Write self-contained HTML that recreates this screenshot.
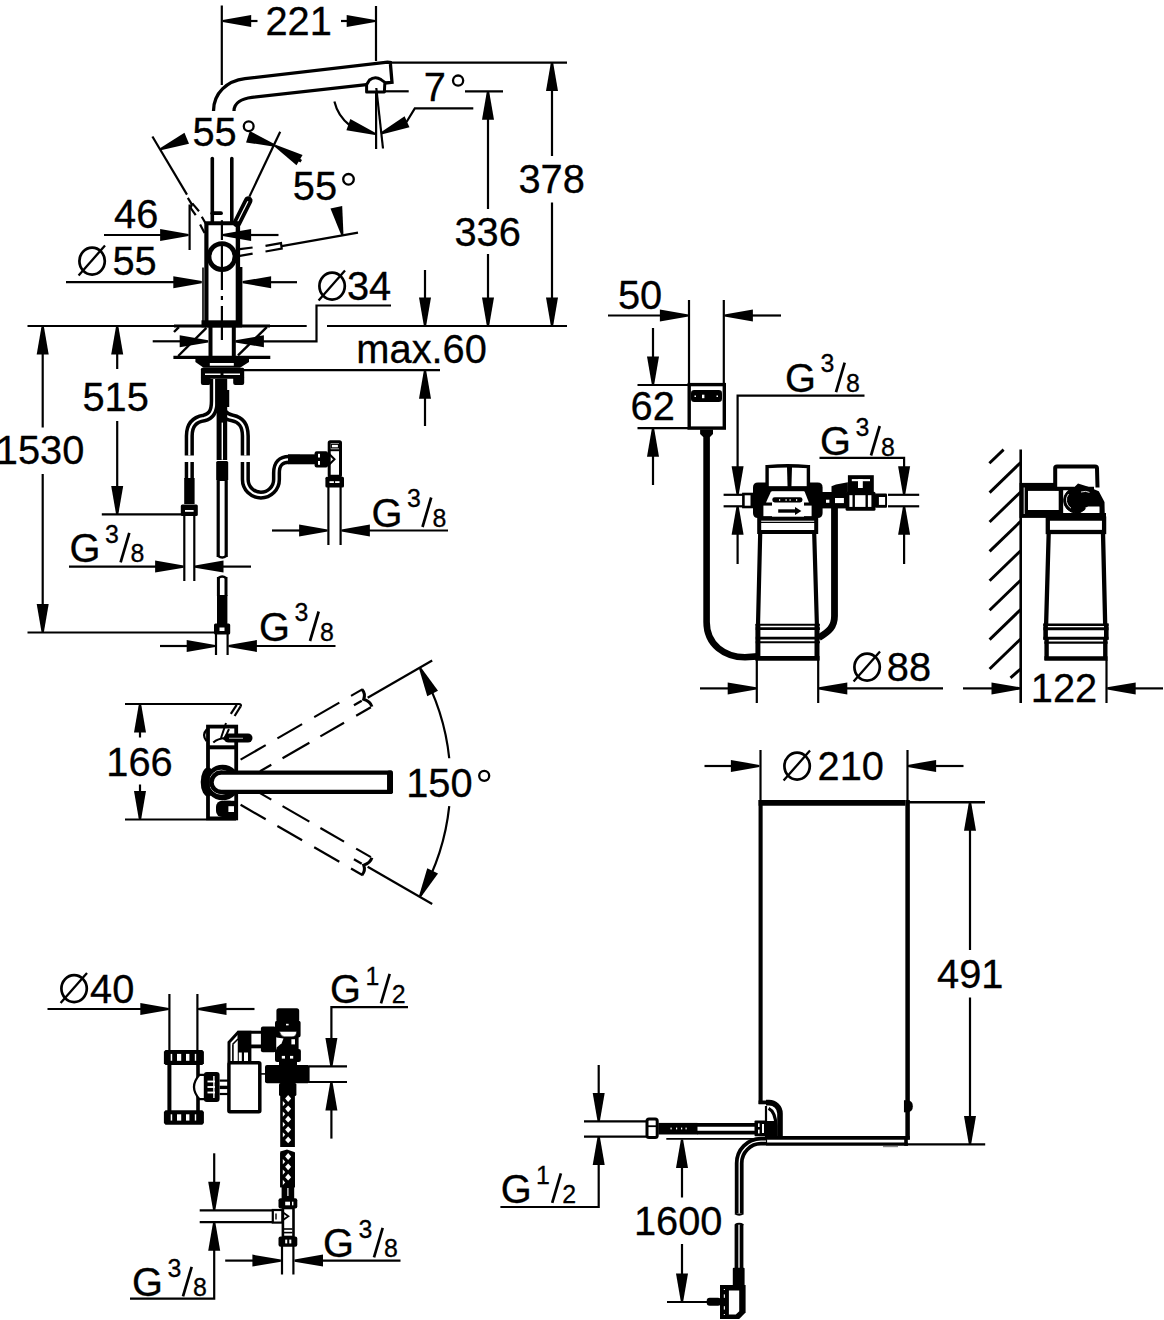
<!DOCTYPE html>
<html><head><meta charset="utf-8"><title>Dimension drawing</title>
<style>
html,body{margin:0;padding:0;background:#fff;}
svg{display:block;}
svg text{font-family:"Liberation Sans",sans-serif;fill:#000;stroke:#000;stroke-width:0.3px;}
</style></head><body>
<svg width="1164" height="1320" viewBox="0 0 1164 1320" fill="none" stroke="#000">
<rect x="0" y="0" width="1164" height="1320" fill="#fff" stroke="none"/>
<line x1="221.8" y1="5.5" x2="221.8" y2="85" stroke-width="2.2"/>
<line x1="376" y1="6" x2="376" y2="61" stroke-width="2.2"/>
<polygon points="222.7,19.9 251.2,15 251.2,27 222.7,22.1" fill="#000" stroke-width="0"/>
<line x1="250" y1="21" x2="257.5" y2="21" stroke-width="2.2"/>
<polygon points="375.2,22.1 346.7,27 346.7,15 375.2,19.9" fill="#000" stroke-width="0"/>
<line x1="341" y1="21" x2="348" y2="21" stroke-width="2.2"/>
<text x="265.4" y="34.8" font-size="39.8" fill="#000">221</text>
<path d="M213.5,111 C213.5,93 227,80.8 245,78.6 L387.5,62.2 L390.3,62.5 L392,82.3 L384.8,83" stroke-width="3.3" fill="none" stroke-linejoin="miter"/>
<path d="M234,111 C234,103 242,98.6 252,97.4 L366.5,84.6" stroke-width="3.3" fill="none"/>
<path d="M385.2,82.6 L381,79.6 Q375,75.6 369.5,80 L366.6,84.6 L366.6,92 L384.4,92 L384.8,83" stroke-width="3" fill="none" stroke-linejoin="round"/>
<line x1="391" y1="62.6" x2="567" y2="62.6" stroke-width="2.2"/>
<line x1="552" y1="64" x2="552" y2="156" stroke-width="2.2"/>
<line x1="552" y1="202.5" x2="552" y2="324" stroke-width="2.2"/>
<polygon points="553.1,62.6 558,91.1 546,91.1 550.9,62.6" fill="#000" stroke-width="0"/>
<polygon points="550.9,326 546,297.5 558,297.5 553.1,326" fill="#000" stroke-width="0"/>
<text x="518.48" y="193" font-size="39.8" fill="#000">378</text>
<line x1="384.5" y1="91.3" x2="408.7" y2="91.3" stroke-width="2.2"/>
<line x1="465" y1="91.3" x2="503" y2="91.3" stroke-width="2.2"/>
<line x1="488" y1="93" x2="488" y2="209" stroke-width="2.2"/>
<line x1="488" y1="254" x2="488" y2="324" stroke-width="2.2"/>
<polygon points="489.1,91.3 494,119.8 482,119.8 486.9,91.3" fill="#000" stroke-width="0"/>
<polygon points="486.9,326 482,297.5 494,297.5 489.1,326" fill="#000" stroke-width="0"/>
<text x="454.48" y="246" font-size="39.8" fill="#000">336</text>
<line x1="27.5" y1="326" x2="306.7" y2="326" stroke-width="2.2"/>
<line x1="327" y1="326" x2="567" y2="326" stroke-width="2.2"/>
<line x1="376.1" y1="92" x2="376.1" y2="149" stroke-width="2.2"/>
<line x1="376.3" y1="88" x2="383" y2="148.5" stroke-width="2.2"/>
<path d="M334.4,101.5 A42.5,42.5 0 0 0 350,125.5" stroke-width="2.2" fill="none"/>
<polygon points="374.94,135.04 346.41,130.34 350.33,119 375.66,132.96" fill="#000" stroke-width="0"/>
<polygon points="380.55,132.4 404.58,116.31 409.47,127.27 381.45,134.4" fill="#000" stroke-width="0"/>
<path d="M406.5,122 L414.8,108.4 L473.3,108.4" stroke-width="2.2" fill="none"/>
<text x="423.76" y="100.9" font-size="39.8" fill="#000">7</text>
<circle cx="458.1" cy="80.6" r="5.1" stroke-width="2.3" fill="none"/>
<line x1="152.4" y1="136.5" x2="187" y2="194.6" stroke-width="2.2"/>
<line x1="187.8" y1="197.8" x2="192.3" y2="205.1" stroke-width="2.2"/>
<line x1="192.3" y1="203.4" x2="199" y2="211.2" stroke-width="2.2"/>
<line x1="190.6" y1="207.9" x2="195.7" y2="215.2" stroke-width="2.2"/>
<line x1="192.3" y1="203.4" x2="190.6" y2="207.9" stroke-width="2.2"/>
<line x1="201.8" y1="216.8" x2="205.7" y2="223.5" stroke-width="2.2"/>
<line x1="200.1" y1="224.6" x2="204.6" y2="233" stroke-width="2.2"/>
<polygon points="159.98,148.18 184.45,132.77 189.03,143.86 160.82,150.22" fill="#000" stroke-width="0"/>
<text x="192.41" y="146" font-size="39.8" fill="#000">55</text>
<circle cx="248.7" cy="126.2" r="4.9" stroke-width="2.3" fill="none"/>
<polygon points="274.66,146.65 246.05,142.4 249.8,131 275.34,144.55" fill="#000" stroke-width="0"/>
<polygon points="275.56,144.65 302.59,154.92 296.49,165.25 274.44,146.55" fill="#000" stroke-width="0"/>
<line x1="298.6" y1="159.6" x2="301.2" y2="161.2" stroke-width="3"/>
<line x1="280.2" y1="131.7" x2="249.4" y2="196.6" stroke-width="2.2"/>
<line x1="248.2" y1="200.6" x2="237" y2="223" stroke-width="8.6" stroke-linecap="round"/>
<line x1="247.9" y1="201.2" x2="237.6" y2="221.8" stroke-width="1.2" stroke="#fff"/>
<text x="292.81" y="200.2" font-size="39.8" fill="#000">55</text>
<circle cx="348.5" cy="179.3" r="5.3" stroke-width="2.3" fill="none"/>
<polygon points="341.33,235.23 330.46,208.43 342.19,205.88 343.47,234.77" fill="#000" stroke-width="0"/>
<line x1="281.7" y1="246.2" x2="358" y2="232.6" stroke-width="2.2"/>
<line x1="239.8" y1="249.2" x2="252.6" y2="247.5" stroke-width="2.2"/>
<line x1="239.8" y1="255.9" x2="252.6" y2="253.7" stroke-width="2.2"/>
<path d="M265.5,245.9 L281,243.1 L281.7,248.7 L265.5,251.5" stroke-width="2.2" fill="none"/>
<line x1="212.3" y1="158.5" x2="212.3" y2="222" stroke-width="3.6" stroke-linecap="round"/>
<line x1="231.8" y1="158.5" x2="231.8" y2="222" stroke-width="3.6" stroke-linecap="round"/>
<line x1="212.3" y1="213.2" x2="221" y2="213.2" stroke-width="3.8" stroke-linecap="round"/>
<line x1="205.2" y1="223.2" x2="239.6" y2="223.2" stroke-width="4"/>
<line x1="206.4" y1="222" x2="206.4" y2="326" stroke-width="4.2"/>
<line x1="237.9" y1="222" x2="237.9" y2="326" stroke-width="4.4"/>
<line x1="203" y1="267.5" x2="203" y2="326" stroke-width="1.6"/>
<line x1="240.6" y1="267" x2="240.6" y2="326" stroke-width="3.6"/>
<line x1="221.9" y1="220.2" x2="221.9" y2="240" stroke-width="2.2"/>
<line x1="221.9" y1="244" x2="221.9" y2="290" stroke-width="2.2"/>
<line x1="221.9" y1="296" x2="221.9" y2="300" stroke-width="2.2"/>
<line x1="221.9" y1="306" x2="221.9" y2="340" stroke-width="2.2"/>
<circle cx="222" cy="256.6" r="13" stroke-width="4.8" fill="none"/>
<line x1="104" y1="235" x2="163" y2="235" stroke-width="2.2"/>
<polygon points="188.6,236.1 160.1,241 160.1,229 188.6,233.9" fill="#000" stroke-width="0"/>
<line x1="189.6" y1="204.5" x2="189.6" y2="250" stroke-width="2.2"/>
<polygon points="222.6,233.9 251.1,229 251.1,241 222.6,236.1" fill="#000" stroke-width="0"/>
<line x1="250" y1="235" x2="278.5" y2="235" stroke-width="2.2"/>
<text x="114.09" y="228.3" font-size="39.8" fill="#000">46</text>
<line x1="66" y1="282.2" x2="175" y2="282.2" stroke-width="2.2"/>
<polygon points="201.8,283.3 173.3,288.2 173.3,276.2 201.8,281.1" fill="#000" stroke-width="0"/>
<polygon points="242.6,281.1 271.1,276.2 271.1,288.2 242.6,283.3" fill="#000" stroke-width="0"/>
<line x1="270" y1="282.2" x2="297" y2="282.2" stroke-width="2.2"/>
<ellipse cx="92.1" cy="261.1" rx="12.7" ry="13.5" stroke-width="2.7" fill="none"/>
<line x1="78.6" y1="275.4" x2="105" y2="245.6" stroke-width="2.3"/>
<text x="112.41" y="275" font-size="39.8" fill="#000">55</text>
<ellipse cx="332.1" cy="286.1" rx="12.7" ry="13.5" stroke-width="2.7" fill="none"/>
<line x1="318.6" y1="300.4" x2="345" y2="270.6" stroke-width="2.3"/>
<text x="346.98" y="300" font-size="39.8" fill="#000">34</text>
<path d="M391,305.5 L316.5,305.5 L316.5,341.3 L262,341.3" stroke-width="2.2" fill="none"/>
<polygon points="235.4,340.2 263.9,335.3 263.9,347.3 235.4,342.4" fill="#000" stroke-width="0"/>
<line x1="152.7" y1="341.3" x2="182" y2="341.3" stroke-width="2.2"/>
<polygon points="208.2,342.4 179.7,347.3 179.7,335.3 208.2,340.2" fill="#000" stroke-width="0"/>
<line x1="425" y1="270" x2="425" y2="300" stroke-width="2.2"/>
<polygon points="423.9,326 419,297.5 431,297.5 426.1,326" fill="#000" stroke-width="0"/>
<text x="356.36" y="362.5" font-size="39.8" fill="#000">max.60</text>
<line x1="242.5" y1="370.2" x2="440" y2="370.2" stroke-width="2.2"/>
<polygon points="426.1,370.2 431,398.7 419,398.7 423.9,370.2" fill="#000" stroke-width="0"/>
<line x1="425" y1="397" x2="425" y2="426" stroke-width="2.2"/>
<line x1="174" y1="326" x2="270" y2="326" stroke-width="3"/>
<rect x="201.5" y="320.3" width="40.5" height="7.1" fill="#000" stroke="none"/>
<line x1="173.4" y1="357.4" x2="270.3" y2="357.4" stroke-width="3.4"/>
<line x1="174" y1="332" x2="178.9" y2="327.2" stroke-width="2.4"/>
<line x1="178.2" y1="356" x2="206.4" y2="327.9" stroke-width="2.4"/>
<line x1="238" y1="355.4" x2="266.8" y2="327.2" stroke-width="2.4"/>
<line x1="210.5" y1="326" x2="210.5" y2="358" stroke-width="4"/>
<line x1="233.8" y1="326" x2="233.8" y2="358" stroke-width="4"/>
<polygon points="195.4,356 249,356 249,362 240,367.7 203.6,367.7 195.4,362" fill="#000" stroke-width="0"/>
<rect x="209.8" y="363" width="24" height="2.7" fill="#fff" stroke="none"/>
<rect x="200.9" y="367.7" width="43.3" height="11" fill="#000" stroke="none" rx="1.5"/>
<rect x="205" y="373.5" width="15.5" height="1.5" fill="#fff" stroke="none"/>
<rect x="223.5" y="373.5" width="16.5" height="1.5" fill="#fff" stroke="none"/>
<rect x="200.9" y="376" width="9.6" height="9" fill="#000" stroke="none" rx="2"/>
<rect x="233.2" y="376" width="11" height="9" fill="#000" stroke="none" rx="2"/>
<line x1="117.2" y1="328" x2="117.2" y2="369" stroke-width="2.2"/>
<line x1="117.2" y1="421" x2="117.2" y2="512" stroke-width="2.2"/>
<polygon points="118.3,326 123.2,354.5 111.2,354.5 116.1,326" fill="#000" stroke-width="0"/>
<polygon points="116.1,514.4 111.2,485.9 123.2,485.9 118.3,514.4" fill="#000" stroke-width="0"/>
<text x="82.41" y="411" font-size="39.8" fill="#000">515</text>
<line x1="101.8" y1="514.4" x2="184" y2="514.4" stroke-width="2.2"/>
<line x1="42.7" y1="328" x2="42.7" y2="427.5" stroke-width="2.2"/>
<line x1="42.7" y1="474" x2="42.7" y2="630" stroke-width="2.2"/>
<polygon points="43.8,326 48.7,354.5 36.7,354.5 41.6,326" fill="#000" stroke-width="0"/>
<polygon points="41.6,632.5 36.7,604 48.7,604 43.8,632.5" fill="#000" stroke-width="0"/>
<text x="-4.19" y="464" font-size="39.8" fill="#000">1530</text>
<line x1="27.5" y1="632.5" x2="215" y2="632.5" stroke-width="2.2"/>
<path d="M226,390 L226,407" stroke-width="6.5" fill="none" stroke-linecap="butt"/>
<path d="M226,390 L226,407" stroke-width="1.6" fill="none" stroke="#fff" stroke-linecap="butt"/>
<path d="M189.3,455.5 L189.3,436 C189.3,424 195,419.5 204,418 C211,416.5 214.3,412 214.3,401 L214.3,379" stroke-width="9.2" fill="none" stroke-linecap="butt"/>
<path d="M189.3,455.5 L189.3,436 C189.3,424 195,419.5 204,418 C211,416.5 214.3,412 214.3,401 L214.3,379" stroke-width="2.2" fill="none" stroke="#fff" stroke-linecap="butt"/>
<path d="M245.3,455.5 L245.3,436 C245.3,424 240,419.5 232.5,418 C224,416.5 219.8,411 219.8,401 L219.8,379" stroke-width="9.2" fill="none" stroke-linecap="butt"/>
<path d="M245.3,455.5 L245.3,436 C245.3,424 240,419.5 232.5,418 C224,416.5 219.8,411 219.8,401 L219.8,379" stroke-width="2.2" fill="none" stroke="#fff" stroke-linecap="butt"/>
<rect x="216.6" y="378.7" width="10.6" height="81.3" fill="#000" stroke="none"/>
<rect x="221.6" y="422.6" width="1.4" height="37.1" fill="#fff" stroke="none"/>
<rect x="216.2" y="461" width="12" height="20" fill="#000" stroke="none" rx="1.5"/>
<line x1="218.2" y1="481" x2="218.2" y2="557" stroke-width="3.2"/>
<line x1="226.2" y1="481" x2="226.2" y2="557" stroke-width="3.2"/>
<path d="M218.2,556 Q222.2,559 226.2,556" stroke-width="2.4" fill="none"/>
<line x1="218.4" y1="577" x2="218.4" y2="596" stroke-width="3"/>
<line x1="226" y1="577" x2="226" y2="596" stroke-width="3"/>
<path d="M218.4,578 Q222.2,575 226,578" stroke-width="2.4" fill="none"/>
<rect x="217" y="595" width="10.4" height="30" fill="#000" stroke="none"/>
<rect x="214" y="623.5" width="16.2" height="11" fill="#000" stroke="none" rx="1.5"/>
<rect x="219.5" y="627.5" width="5" height="3.5" fill="#fff" stroke="none"/>
<line x1="216" y1="634" x2="216" y2="655" stroke-width="2.2"/>
<line x1="227.6" y1="634" x2="227.6" y2="655" stroke-width="2.2"/>
<path d="M189.3,462 L189.3,479" stroke-width="9.2" fill="none" stroke-linecap="butt"/>
<path d="M189.3,462 L189.3,479" stroke-width="2.2" fill="none" stroke="#fff" stroke-linecap="butt"/>
<rect x="184.2" y="478" width="10.4" height="26" fill="#000" stroke="none"/>
<rect x="180.8" y="504.5" width="17" height="11.5" fill="#000" stroke="none" rx="1.5"/>
<rect x="185" y="510" width="8.6" height="1.8" fill="#fff" stroke="none"/>
<line x1="184.3" y1="514" x2="184.3" y2="581" stroke-width="2.2"/>
<line x1="194.3" y1="514" x2="194.3" y2="581" stroke-width="2.2"/>
<line x1="69" y1="566.6" x2="156" y2="566.6" stroke-width="2.2"/>
<polygon points="183.6,567.7 155.1,572.6 155.1,560.6 183.6,565.5" fill="#000" stroke-width="0"/>
<polygon points="195,565.5 223.5,560.6 223.5,572.6 195,567.7" fill="#000" stroke-width="0"/>
<line x1="222" y1="566.6" x2="251" y2="566.6" stroke-width="2.2"/>
<text x="69.6" y="562" font-size="39.8" fill="#000">G</text>
<text x="105.05" y="542.5" font-size="24.9" fill="#000">3</text>
<line x1="120.6" y1="562.3" x2="129.3" y2="532.8" stroke-width="2.7"/>
<text x="130.62" y="562.3" font-size="24.9" fill="#000">8</text>
<line x1="160" y1="646" x2="188" y2="646" stroke-width="2.2"/>
<polygon points="215.2,647.1 186.7,652 186.7,640 215.2,644.9" fill="#000" stroke-width="0"/>
<polygon points="228.4,644.9 256.9,640 256.9,652 228.4,647.1" fill="#000" stroke-width="0"/>
<line x1="256" y1="646" x2="335.5" y2="646" stroke-width="2.2"/>
<text x="259" y="640.7" font-size="39.8" fill="#000">G</text>
<text x="294.45" y="621.2" font-size="24.9" fill="#000">3</text>
<line x1="310" y1="641" x2="318.7" y2="611.5" stroke-width="2.7"/>
<text x="320.02" y="641" font-size="24.9" fill="#000">8</text>
<path d="M245.3,462 L245.3,479.5 A15.6,15.6 0 0 0 276.5,479.5 L276.5,473 C276.5,463.5 281,459.3 289,459.3 L300,459.3" stroke-width="9.2" fill="none" stroke-linecap="butt"/>
<path d="M245.3,462 L245.3,479.5 A15.6,15.6 0 0 0 276.5,479.5 L276.5,473 C276.5,463.5 281,459.3 289,459.3 L300,459.3" stroke-width="2.2" fill="none" stroke="#fff" stroke-linecap="butt"/>
<line x1="288" y1="459.3" x2="316" y2="459.3" stroke-width="10"/>
<rect x="314.6" y="451.2" width="13.4" height="16.2" fill="#000" stroke="none" rx="2"/>
<rect x="318" y="453.8" width="2" height="3.7" fill="#fff" stroke="none"/>
<rect x="318" y="461" width="2" height="3.8" fill="#fff" stroke="none"/>
<rect x="329.2" y="441.8" width="11.3" height="34.5" stroke-width="3" fill="none" rx="1"/>
<rect x="331" y="444.4" width="7.6" height="3.4" fill="#fff" stroke="none"/>
<rect x="331.3" y="444.3" width="7.2" height="3.6" stroke-width="1.2" fill="none"/>
<line x1="329" y1="450.2" x2="341" y2="450.2" stroke-width="2"/>
<path d="M328,452.8 L334.5,459.3 L328,465.8" stroke-width="2" fill="none"/>
<rect x="325.4" y="476.7" width="18.6" height="10.8" fill="#000" stroke="none" rx="1.5"/>
<rect x="329.5" y="481.2" width="10" height="1.8" fill="#fff" stroke="none"/>
<line x1="334.5" y1="480" x2="334.5" y2="484.4" stroke-width="1.2"/>
<line x1="328.4" y1="487" x2="328.4" y2="545" stroke-width="2.2"/>
<line x1="340.6" y1="487" x2="340.6" y2="545" stroke-width="2.2"/>
<line x1="272" y1="530.5" x2="301" y2="530.5" stroke-width="2.2"/>
<polygon points="327.6,531.6 299.1,536.5 299.1,524.5 327.6,529.4" fill="#000" stroke-width="0"/>
<polygon points="341.4,529.4 369.9,524.5 369.9,536.5 341.4,531.6" fill="#000" stroke-width="0"/>
<line x1="368" y1="530.5" x2="448" y2="530.5" stroke-width="2.2"/>
<text x="371.5" y="526.7" font-size="39.8" fill="#000">G</text>
<text x="406.95" y="507.2" font-size="24.9" fill="#000">3</text>
<line x1="422.5" y1="527" x2="431.2" y2="497.5" stroke-width="2.7"/>
<text x="432.52" y="527" font-size="24.9" fill="#000">8</text>
<line x1="125" y1="704" x2="239" y2="704" stroke-width="2.2"/>
<path d="M239,704 Q241.5,704 240.8,706.5" stroke-width="2.2" fill="none"/>
<line x1="125" y1="819.5" x2="236" y2="819.5" stroke-width="2.2"/>
<line x1="140" y1="706" x2="140" y2="737.5" stroke-width="2.2"/>
<line x1="140" y1="784.5" x2="140" y2="818" stroke-width="2.2"/>
<polygon points="141.1,704 146,732.5 134,732.5 138.9,704" fill="#000" stroke-width="0"/>
<polygon points="138.9,819.5 134,791 146,791 141.1,819.5" fill="#000" stroke-width="0"/>
<text x="106.31" y="775.8" font-size="39.8" fill="#000">166</text>
<line x1="230.8" y1="713.9" x2="236.7" y2="704.9" stroke-width="2.2"/>
<line x1="234.6" y1="716" x2="240.6" y2="706.4" stroke-width="2.2"/>
<line x1="240.6" y1="759.63" x2="265.71" y2="745.13" stroke-width="2.2"/>
<line x1="277.4" y1="738.38" x2="302.09" y2="724.13" stroke-width="2.2"/>
<line x1="314.21" y1="717.13" x2="339.33" y2="702.63" stroke-width="2.2"/>
<line x1="351.02" y1="695.88" x2="362.71" y2="689.13" stroke-width="2.2"/>
<line x1="260.02" y1="771.27" x2="271.28" y2="764.77" stroke-width="2.2"/>
<line x1="282.54" y1="758.27" x2="309.39" y2="742.77" stroke-width="2.2"/>
<line x1="320.39" y1="736.42" x2="344.03" y2="722.77" stroke-width="2.2"/>
<line x1="356.15" y1="715.77" x2="370.88" y2="707.27" stroke-width="2.2"/>
<path d="M362.02,689.53 Q365.78,693.64 363.72,699.28 Q370.23,701.36 371.92,706.67" stroke-width="3" fill="none"/>
<line x1="353.95" y1="705.15" x2="361.74" y2="700.65" stroke-width="2.3"/>
<line x1="367.66" y1="697.7" x2="432.18" y2="660.45" stroke-width="2.2"/>
<line x1="240.6" y1="804.77" x2="265.71" y2="819.27" stroke-width="2.2"/>
<line x1="277.4" y1="826.02" x2="302.09" y2="840.27" stroke-width="2.2"/>
<line x1="314.21" y1="847.27" x2="339.33" y2="861.77" stroke-width="2.2"/>
<line x1="351.02" y1="868.52" x2="362.71" y2="875.27" stroke-width="2.2"/>
<line x1="260.02" y1="793.13" x2="271.28" y2="799.63" stroke-width="2.2"/>
<line x1="282.54" y1="806.13" x2="309.39" y2="821.63" stroke-width="2.2"/>
<line x1="320.39" y1="827.98" x2="344.03" y2="841.63" stroke-width="2.2"/>
<line x1="356.15" y1="848.63" x2="370.88" y2="857.13" stroke-width="2.2"/>
<path d="M371.92,857.73 Q370.23,863.04 363.72,865.12 Q365.78,870.76 362.02,874.87" stroke-width="3" fill="none"/>
<line x1="353.95" y1="859.25" x2="361.74" y2="863.75" stroke-width="2.3"/>
<line x1="367.66" y1="866.7" x2="432.18" y2="903.95" stroke-width="2.2"/>
<path d="M420.59,668.99 A229.2,229.2 0 0 1 449.24,758.24" stroke-width="2.2" fill="none"/>
<path d="M449.24,806.16 A229.2,229.2 0 0 1 420.59,895.41" stroke-width="2.2" fill="none"/>
<polygon points="420.98,667.46 438.02,690.82 427.27,696.15 419.01,668.43" fill="#000" stroke-width="0"/>
<polygon points="419.01,895.97 427.27,868.25 438.02,873.58 420.98,896.94" fill="#000" stroke-width="0"/>
<text x="406.21" y="796.7" font-size="39.8" fill="#000">150</text>
<circle cx="484.2" cy="775.8" r="5" stroke-width="2.3" fill="none"/>
<circle cx="222.6" cy="782.5" r="17.8" fill="#000" stroke="none"/><ellipse cx="208" cy="782" rx="7.3" ry="14.6" fill="#000" stroke="none"/>
<circle cx="221.3" cy="782.2" r="12.1" stroke="#fff" stroke-width="0.8" fill="none"/>
<rect x="208" y="726.6" width="28.2" height="91.8" stroke-width="3.8" fill="none"/>
<line x1="208" y1="747.3" x2="236.2" y2="747.3" stroke-width="4"/>
<path d="M389.5,772.55 L221.3,772.55 A9.7,9.7 0 0 0 221.3,791.95 L389.5,791.95 Z" stroke-width="4.25" fill="#fff"/>
<rect x="387.1" y="770.4" width="5.9" height="23.7" fill="#000" stroke="none" rx="1.8"/>
<line x1="228.5" y1="738" x2="248" y2="738" stroke-width="9" stroke-linecap="round"/>
<line x1="229" y1="738.3" x2="243" y2="738.3" stroke-width="1.2" stroke="#999"/>
<path d="M213.3,742.5 Q218,738.5 225,738" stroke-width="2.2" fill="none"/>
<path d="M207,729 Q201.5,735 206.5,741" stroke-width="2.2" fill="none"/>
<path d="M221,738 L226,723 M224,740 L229,729" stroke-width="2" fill="none"/>
<rect x="216" y="800.8" width="20" height="16.2" fill="#000" stroke="none" rx="6"/>
<rect x="224" y="800.8" width="12" height="16.2" fill="#000" stroke="none"/>
<rect x="228.4" y="806.2" width="5.6" height="5.8" fill="#fff" stroke="none"/>
<ellipse cx="74.1" cy="988.6" rx="12.7" ry="13.5" stroke-width="2.7" fill="none"/>
<line x1="60.6" y1="1002.9" x2="87" y2="973.1" stroke-width="2.3"/>
<text x="90.09" y="1002.5" font-size="39.8" fill="#000">40</text>
<line x1="47.5" y1="1009" x2="142" y2="1009" stroke-width="2.2"/>
<polygon points="168.8,1010.1 140.3,1015 140.3,1003 168.8,1007.9" fill="#000" stroke-width="0"/>
<polygon points="198,1007.9 226.5,1003 226.5,1015 198,1010.1" fill="#000" stroke-width="0"/>
<line x1="225" y1="1009" x2="254.5" y2="1009" stroke-width="2.2"/>
<line x1="169.4" y1="994" x2="169.4" y2="1051" stroke-width="2.2"/>
<line x1="197.4" y1="994" x2="197.4" y2="1051" stroke-width="2.2"/>
<polygon points="165.5,1049.9 202.3,1049.9 203.9,1051.7 203.9,1063.2 202.3,1065 165.5,1065 163.9,1063.2 163.9,1051.7" fill="#000" stroke-width="0"/>
<rect x="170.7" y="1053.9" width="1.5" height="6.9" fill="#fff" stroke="none"/>
<rect x="177" y="1053.9" width="4.2" height="6.9" fill="#fff" stroke="none"/>
<rect x="186" y="1053.9" width="3.4" height="6.9" fill="#fff" stroke="none"/>
<rect x="194.8" y="1053.9" width="1.4" height="6.9" fill="#fff" stroke="none"/>
<polygon points="165.5,1110.3 202.3,1110.3 203.9,1112.1 203.9,1123 202.3,1124.8 165.5,1124.8 163.9,1123 163.9,1112.1" fill="#000" stroke-width="0"/>
<rect x="170.7" y="1114.3" width="1.5" height="6.3" fill="#fff" stroke="none"/>
<rect x="177" y="1114.3" width="4.2" height="6.3" fill="#fff" stroke="none"/>
<rect x="186" y="1114.3" width="3.4" height="6.3" fill="#fff" stroke="none"/>
<rect x="194.8" y="1114.3" width="1.4" height="6.3" fill="#fff" stroke="none"/>
<line x1="169.4" y1="1064" x2="169.4" y2="1111" stroke-width="4"/>
<line x1="198" y1="1064" x2="198" y2="1111" stroke-width="3.6"/>
<path d="M204,1074.8 L199.5,1074.8 Q188.5,1087 199.5,1099.2 L204,1099.2" stroke-width="2.2" fill="#fff"/>
<rect x="203.8" y="1071.9" width="15.8" height="30.1" fill="#000" stroke="none" rx="3"/>
<rect x="207.5" y="1080.6" width="7.5" height="1.8" fill="#fff" stroke="none"/>
<rect x="207.5" y="1086.1" width="7.5" height="1.8" fill="#fff" stroke="none"/>
<rect x="207.5" y="1091.6" width="7.5" height="1.8" fill="#fff" stroke="none"/>
<rect x="213.2" y="1076" width="1.4" height="22" fill="#fff" stroke="none"/>
<line x1="219.6" y1="1080.6" x2="231" y2="1080.6" stroke-width="2.2"/>
<line x1="219.6" y1="1087.4" x2="231" y2="1087.4" stroke-width="3.4"/>
<line x1="219.6" y1="1094" x2="231" y2="1094" stroke-width="2.2"/>
<path d="M230,1080 Q233,1087.4 230,1094.6" stroke-width="2.2" fill="none"/>
<rect x="228.9" y="1062.8" width="30.9" height="48.9" stroke-width="3.5" fill="#fff" rx="1"/>
<path d="M229,1062 L229,1042.3 L238.2,1032.2 L262,1032.2" stroke-width="3" fill="none"/>
<rect x="237.5" y="1030.8" width="13.9" height="30.2" fill="#000" stroke="none"/>
<polygon points="232.8,1061 232.8,1044 237.5,1039.5 237.5,1061" fill="#fff" stroke-width="0"/>
<line x1="232.9" y1="1044.5" x2="232.9" y2="1061" stroke-width="1.6"/>
<line x1="232.5" y1="1044.5" x2="238" y2="1039" stroke-width="1.6"/>
<rect x="238.8" y="1052.5" width="3" height="8.5" fill="#fff" stroke="none"/>
<rect x="244" y="1052.5" width="4" height="8.5" fill="#fff" stroke="none"/>
<rect x="251" y="1044.5" width="11" height="3.8" fill="#000" stroke="none"/>
<rect x="260.9" y="1026.5" width="15.1" height="25.7" fill="#000" stroke="none" rx="2"/>
<rect x="276.4" y="1008.2" width="22.8" height="13.8" fill="#000" stroke="none" rx="2.5"/>
<rect x="275" y="1020.5" width="25.6" height="17.1" fill="#000" stroke="none" rx="2.5"/>
<path d="M279.4,1031.4 L296.6,1031.4 Q296.4,1036.8 292,1036.8 L284.5,1036.8 Q281,1036.6 279.4,1031.4 Z" stroke-width="0.5" fill="#fff"/>
<rect x="286" y="1023.8" width="2.6" height="1.6" fill="#fff" stroke="none"/>
<rect x="276.4" y="1037" width="22.2" height="12" fill="#000" stroke="none"/>
<polygon points="276.4,1037.6 283.5,1038.6 281.6,1043.2 276.4,1047.8" fill="#fff" stroke-width="0"/>
<rect x="291.4" y="1039.2" width="3.6" height="5.2" fill="#fff" stroke="none"/>
<rect x="275" y="1049" width="25.9" height="13" fill="#000" stroke="none" rx="2"/>
<rect x="281.8" y="1055.9" width="3.2" height="2.7" fill="#fff" stroke="none"/>
<rect x="290" y="1055.9" width="3.2" height="2.7" fill="#fff" stroke="none"/>
<rect x="279" y="1061" width="18" height="5" fill="#000" stroke="none"/>
<rect x="265" y="1065" width="44.6" height="18.2" fill="#000" stroke="none" rx="2"/>
<line x1="260" y1="1073.9" x2="266" y2="1073.9" stroke-width="1.6"/>
<rect x="279" y="1083" width="17.4" height="13" fill="#000" stroke="none" rx="1.5"/>
<line x1="309" y1="1066.4" x2="347" y2="1066.4" stroke-width="2.2"/>
<line x1="309" y1="1082" x2="347" y2="1082" stroke-width="2.2"/>
<path d="M408,1007.2 L331.4,1007.2 L331.4,1040" stroke-width="2.2" fill="none"/>
<polygon points="330.3,1066.4 325.4,1037.9 337.4,1037.9 332.5,1066.4" fill="#000" stroke-width="0"/>
<polygon points="332.5,1082 337.4,1110.5 325.4,1110.5 330.3,1082" fill="#000" stroke-width="0"/>
<line x1="331.4" y1="1109" x2="331.4" y2="1138.6" stroke-width="2.2"/>
<text x="330" y="1003" font-size="39.8" fill="#000">G</text>
<text x="365.57" y="985" font-size="24.9" fill="#000">1</text>
<line x1="381" y1="1003.3" x2="389.7" y2="973.8" stroke-width="2.7"/>
<text x="391.75" y="1003.3" font-size="24.9" fill="#000">2</text>
<rect x="280.2" y="1095" width="14.7" height="52" fill="#000" stroke="none"/>
<polygon points="288.15,1095.1 291.15,1098.5 288.15,1101.9 285.15,1098.5" fill="#fff" stroke-width="0"/>
<polygon points="282.8,1101.1 285.2,1103.7 282.8,1106.3" fill="#fff" stroke-width="0"/>
<polygon points="288.15,1105.45 291.15,1108.85 288.15,1112.25 285.15,1108.85" fill="#fff" stroke-width="0"/>
<polygon points="282.8,1111.45 285.2,1114.05 282.8,1116.65" fill="#fff" stroke-width="0"/>
<polygon points="288.15,1115.8 291.15,1119.2 288.15,1122.6 285.15,1119.2" fill="#fff" stroke-width="0"/>
<polygon points="282.8,1121.8 285.2,1124.4 282.8,1127" fill="#fff" stroke-width="0"/>
<polygon points="288.15,1126.15 291.15,1129.55 288.15,1132.95 285.15,1129.55" fill="#fff" stroke-width="0"/>
<polygon points="282.8,1132.15 285.2,1134.75 282.8,1137.35" fill="#fff" stroke-width="0"/>
<polygon points="288.15,1136.5 291.15,1139.9 288.15,1143.3 285.15,1139.9" fill="#fff" stroke-width="0"/>
<polygon points="280.2,1151.6 287,1149.4 294.9,1152.2 294.9,1187.3 280.2,1187.3" fill="#000" stroke-width="0"/>
<rect x="280.2" y="1153" width="14.7" height="34.3" fill="#000" stroke="none"/>
<polygon points="288.15,1153.1 291.15,1156.5 288.15,1159.9 285.15,1156.5" fill="#fff" stroke-width="0"/>
<polygon points="282.8,1159.1 285.2,1161.7 282.8,1164.3" fill="#fff" stroke-width="0"/>
<polygon points="288.15,1163.45 291.15,1166.85 288.15,1170.25 285.15,1166.85" fill="#fff" stroke-width="0"/>
<polygon points="282.8,1169.45 285.2,1172.05 282.8,1174.65" fill="#fff" stroke-width="0"/>
<polygon points="288.15,1173.8 291.15,1177.2 288.15,1180.6 285.15,1177.2" fill="#fff" stroke-width="0"/>
<polygon points="282.8,1179.8 285.2,1182.4 282.8,1185" fill="#fff" stroke-width="0"/>
<rect x="281.6" y="1187" width="12.6" height="12" fill="#000" stroke="none"/>
<rect x="287.3" y="1188" width="1.2" height="8" fill="#fff" stroke="none"/>
<rect x="278.5" y="1198.2" width="18.8" height="10.4" fill="#000" stroke="none" rx="2"/>
<rect x="285.2" y="1201.7" width="4.8" height="3.6" fill="#fff" stroke="none"/>
<rect x="292" y="1201.7" width="1.4" height="3.6" fill="#fff" stroke="none"/>
<rect x="282.9" y="1208" width="10.6" height="29" stroke-width="2.6" fill="#fff"/>
<path d="M282.4,1212 L288.4,1216.3 L282.4,1220.6" stroke-width="1.8" fill="none"/>
<rect x="272.8" y="1210" width="9.5" height="12.6" stroke-width="2.2" fill="#fff"/>
<line x1="276" y1="1213.5" x2="276" y2="1219.5" stroke-width="1.4"/>
<line x1="283.5" y1="1229" x2="292.5" y2="1229" stroke-width="1.6"/>
<line x1="283.5" y1="1232.6" x2="292.5" y2="1232.6" stroke-width="1.6"/>
<rect x="278.5" y="1236.4" width="18.8" height="10.4" fill="#000" stroke="none" rx="2"/>
<rect x="285.2" y="1239.6" width="2" height="3.8" fill="#fff" stroke="none"/>
<rect x="289.3" y="1239.6" width="2" height="3.8" fill="#fff" stroke="none"/>
<line x1="282" y1="1246" x2="282" y2="1274.5" stroke-width="2.2"/>
<line x1="293.4" y1="1246" x2="293.4" y2="1274.5" stroke-width="2.2"/>
<line x1="199.7" y1="1210.3" x2="272.4" y2="1210.3" stroke-width="2.2"/>
<line x1="199.7" y1="1222.2" x2="272.4" y2="1222.2" stroke-width="2.2"/>
<line x1="214.2" y1="1153.3" x2="214.2" y2="1184" stroke-width="2.2"/>
<polygon points="213.1,1210.3 208.2,1181.8 220.2,1181.8 215.3,1210.3" fill="#000" stroke-width="0"/>
<polygon points="215.3,1222.2 220.2,1250.7 208.2,1250.7 213.1,1222.2" fill="#000" stroke-width="0"/>
<path d="M214.2,1249 L214.2,1298.6 L130,1298.6" stroke-width="2.2" fill="none"/>
<text x="132" y="1296" font-size="39.8" fill="#000">G</text>
<text x="167.45" y="1276.5" font-size="24.9" fill="#000">3</text>
<line x1="183" y1="1296.3" x2="191.7" y2="1266.8" stroke-width="2.7"/>
<text x="193.02" y="1296.3" font-size="24.9" fill="#000">8</text>
<line x1="225.2" y1="1260.6" x2="254" y2="1260.6" stroke-width="2.2"/>
<polygon points="280.9,1261.7 252.4,1266.6 252.4,1254.6 280.9,1259.5" fill="#000" stroke-width="0"/>
<polygon points="294.5,1259.5 323,1254.6 323,1266.6 294.5,1261.7" fill="#000" stroke-width="0"/>
<line x1="321" y1="1260.6" x2="400.5" y2="1260.6" stroke-width="2.2"/>
<text x="323" y="1257" font-size="39.8" fill="#000">G</text>
<text x="358.45" y="1237.5" font-size="24.9" fill="#000">3</text>
<line x1="374" y1="1257.3" x2="382.7" y2="1227.8" stroke-width="2.7"/>
<text x="384.02" y="1257.3" font-size="24.9" fill="#000">8</text>
<text x="617.91" y="309" font-size="39.8" fill="#000">50</text>
<line x1="608" y1="315.5" x2="662" y2="315.5" stroke-width="2.2"/>
<polygon points="688.4,316.6 659.9,321.5 659.9,309.5 688.4,314.4" fill="#000" stroke-width="0"/>
<polygon points="724.4,314.4 752.9,309.5 752.9,321.5 724.4,316.6" fill="#000" stroke-width="0"/>
<line x1="751" y1="315.5" x2="781" y2="315.5" stroke-width="2.2"/>
<line x1="689" y1="300" x2="689" y2="384" stroke-width="2.2"/>
<line x1="723.8" y1="300" x2="723.8" y2="384" stroke-width="2.2"/>
<rect x="689.2" y="384.6" width="35.1" height="43.5" stroke-width="3.4" fill="#fff"/>
<rect x="691" y="390" width="31" height="12" fill="#000" stroke="none" rx="3.2"/>
<rect x="702" y="394.7" width="2.4" height="3.5" fill="#fff" stroke="none"/>
<rect x="694.5" y="395.5" width="1.5" height="1.5" fill="#fff" stroke="none"/>
<rect x="716.5" y="395.5" width="1.5" height="1.5" fill="#fff" stroke="none"/>
<line x1="637.5" y1="385" x2="688" y2="385" stroke-width="2.2"/>
<line x1="637.5" y1="428.2" x2="688" y2="428.2" stroke-width="2.2"/>
<line x1="653" y1="328" x2="653" y2="358" stroke-width="2.2"/>
<polygon points="651.9,385 647,356.5 659,356.5 654.1,385" fill="#000" stroke-width="0"/>
<polygon points="654.1,428.2 659,456.7 647,456.7 651.9,428.2" fill="#000" stroke-width="0"/>
<line x1="653" y1="455" x2="653" y2="485" stroke-width="2.2"/>
<text x="630.58" y="420" font-size="39.8" fill="#000">62</text>
<polygon points="700.1,429.5 713,429.5 713,434 710,437 703.2,437 700.1,434" fill="#000" stroke-width="0"/>
<path d="M706.6,436 L706.6,622 C706.6,645 725,657.2 745,657.2 L757.5,656.4" stroke-width="6.6" fill="none"/>
<text x="785" y="391.9" font-size="39.8" fill="#000">G</text>
<text x="820.45" y="372.4" font-size="24.9" fill="#000">3</text>
<line x1="836" y1="392.2" x2="844.7" y2="362.7" stroke-width="2.7"/>
<text x="846.02" y="392.2" font-size="24.9" fill="#000">8</text>
<path d="M864.5,395.6 L737.6,395.6 L737.6,468" stroke-width="2.2" fill="none"/>
<polygon points="736.5,494.8 731.6,466.3 743.6,466.3 738.7,494.8" fill="#000" stroke-width="0"/>
<polygon points="738.7,506.3 743.6,534.8 731.6,534.8 736.5,506.3" fill="#000" stroke-width="0"/>
<line x1="737.6" y1="533" x2="737.6" y2="564" stroke-width="2.2"/>
<line x1="723.6" y1="494.8" x2="743.5" y2="494.8" stroke-width="2.2"/>
<line x1="723.6" y1="506.3" x2="743.5" y2="506.3" stroke-width="2.2"/>
<text x="820" y="455.2" font-size="39.8" fill="#000">G</text>
<text x="855.45" y="435.7" font-size="24.9" fill="#000">3</text>
<line x1="871" y1="455.5" x2="879.7" y2="426" stroke-width="2.7"/>
<text x="881.02" y="455.5" font-size="24.9" fill="#000">8</text>
<path d="M819.5,457.8 L904.1,457.8 L904.1,468" stroke-width="2.2" fill="none"/>
<polygon points="903,494.8 898.1,466.3 910.1,466.3 905.2,494.8" fill="#000" stroke-width="0"/>
<polygon points="905.2,506.3 910.1,534.8 898.1,534.8 903,506.3" fill="#000" stroke-width="0"/>
<line x1="904.1" y1="533" x2="904.1" y2="564" stroke-width="2.2"/>
<line x1="888" y1="494.8" x2="919.2" y2="494.8" stroke-width="2.2"/>
<line x1="888" y1="506.3" x2="919.2" y2="506.3" stroke-width="2.2"/>
<rect x="743.4" y="494" width="8.4" height="13" stroke-width="2.6" fill="#fff"/>
<path d="M753,487.6 Q753,482.6 758,482.6 L771,482.6 Q772,482.6 772,483.6 L772,517 Q772,518 771,518 L758,518 Q753,518 753,513 Z" fill="#000" stroke="none"/>
<path d="M804,483.6 Q804,482.6 805,482.6 L817.6,482.6 Q822.6,482.6 822.6,487.6 L822.6,513 Q822.6,518 817.6,518 L805,518 Q804,518 804,517 Z" fill="#000" stroke="none"/>
<rect x="752" y="493" width="4" height="15" fill="#000" stroke="none"/>
<rect x="820" y="492" width="26" height="16.4" fill="#000" stroke="none"/>
<path d="M767.1,488 L767.1,466.6 Q788,465 808.4,466.6 L808.4,488 Z" stroke-width="3.4" fill="#fff"/>
<polygon points="787,467 792,467 791.4,488 787.6,488" fill="#000" stroke-width="0"/>
<rect x="765.4" y="486.6" width="44.7" height="4.8" fill="#000" stroke="none"/>
<polygon points="771,491.4 804.6,491.4 808.9,502.4 766,502.4" fill="#fff" stroke-width="0"/>
<rect x="763.4" y="505.6" width="48.2" height="10.6" fill="#fff" stroke="none"/>
<rect x="772.3" y="497.2" width="30.2" height="5.2" fill="#000" stroke="none" rx="2.4"/>
<rect x="779" y="499.2" width="1.2" height="1.6" fill="#fff" stroke="none"/>
<rect x="785.5" y="499.2" width="1.2" height="1.6" fill="#fff" stroke="none"/>
<rect x="789.5" y="499.2" width="1.2" height="1.6" fill="#fff" stroke="none"/>
<rect x="796" y="499.2" width="1.2" height="1.6" fill="#fff" stroke="none"/>
<line x1="778.2" y1="511" x2="796" y2="511" stroke-width="3.4"/>
<polygon points="795,507 801.4,511 795,515" fill="#000" stroke-width="0"/>
<rect x="759.2" y="518.7" width="57" height="13.3" stroke-width="4" fill="#fff"/>
<line x1="760" y1="522.4" x2="815" y2="522.4" stroke-width="1.4"/>
<path d="M760.2,533 L758,625 M814.2,533 L816.9,625" stroke-width="4.2" fill="none"/>
<rect x="756.5" y="625" width="62.7" height="33" fill="#fff" stroke="none"/>
<line x1="755.7" y1="624.8" x2="819.9" y2="624.8" stroke-width="2"/>
<line x1="755.7" y1="628.6" x2="819.9" y2="628.6" stroke-width="2.8"/>
<line x1="755.7" y1="638.2" x2="819.9" y2="638.2" stroke-width="2.8"/>
<line x1="755.7" y1="642.3" x2="819.9" y2="642.3" stroke-width="2"/>
<line x1="757.9" y1="624" x2="757.9" y2="660" stroke-width="5"/>
<line x1="817" y1="624" x2="817" y2="660" stroke-width="5"/>
<line x1="755.4" y1="658.4" x2="819.5" y2="658.4" stroke-width="4.8"/>
<line x1="756.8" y1="660" x2="756.8" y2="703" stroke-width="2.2"/>
<line x1="818.2" y1="660" x2="818.2" y2="703" stroke-width="2.2"/>
<line x1="700" y1="688.4" x2="730" y2="688.4" stroke-width="2.2"/>
<polygon points="756.2,689.5 727.7,694.4 727.7,682.4 756.2,687.3" fill="#000" stroke-width="0"/>
<polygon points="818.8,687.3 847.3,682.4 847.3,694.4 818.8,689.5" fill="#000" stroke-width="0"/>
<line x1="846" y1="688.4" x2="943" y2="688.4" stroke-width="2.2"/>
<ellipse cx="867.1" cy="667.1" rx="12.7" ry="13.5" stroke-width="2.7" fill="none"/>
<line x1="853.6" y1="681.4" x2="880" y2="651.6" stroke-width="2.3"/>
<text x="886.77" y="681" font-size="39.8" fill="#000">88</text>
<rect x="826" y="499.7" width="3.4" height="3.1" fill="#fff" stroke="none"/>
<rect x="835" y="498" width="8.9" height="5.1" fill="#fff" stroke="none"/>
<polygon points="831.5,492.4 831.5,486.3 836,484.6 847.9,482.2 847.9,492.4" fill="#000" stroke-width="0"/>
<rect x="847.9" y="475.2" width="25.9" height="16.8" fill="#000" stroke="none"/>
<rect x="851.8" y="479.1" width="18.2" height="2.1" fill="#fff" stroke="none"/>
<rect x="858" y="479.1" width="4.8" height="8.9" fill="#fff" stroke="none"/>
<rect x="845.6" y="491.8" width="29.9" height="18.9" fill="#000" stroke="none" rx="1.5"/>
<rect x="849.4" y="495.2" width="3.1" height="11.7" fill="#fff" stroke="none"/>
<rect x="854.9" y="495.2" width="10.6" height="11.7" fill="#fff" stroke="none"/>
<rect x="867.9" y="495.2" width="3.5" height="11.7" fill="#fff" stroke="none"/>
<rect x="875" y="493.4" width="12" height="14.4" fill="#000" stroke="none" rx="1"/>
<rect x="878.9" y="497" width="6.2" height="7.9" fill="#fff" stroke="none"/>
<path d="M834.5,507 L834.5,616 C834.5,627 829,631.5 819,637.6" stroke-width="6.8" fill="none"/>
<line x1="1020.7" y1="449.5" x2="1020.7" y2="703" stroke-width="2.6"/>
<line x1="989.4" y1="463.2" x2="1003.6" y2="449.6" stroke-width="2.9"/>
<line x1="989.6" y1="492.6" x2="1020.6" y2="462.6" stroke-width="2.9"/>
<line x1="989.6" y1="522" x2="1020.6" y2="492" stroke-width="2.9"/>
<line x1="989.6" y1="551.4" x2="1020.6" y2="521.4" stroke-width="2.9"/>
<line x1="989.6" y1="580.8" x2="1020.6" y2="550.8" stroke-width="2.9"/>
<line x1="989.6" y1="610.2" x2="1020.6" y2="580.2" stroke-width="2.9"/>
<line x1="989.6" y1="639.6" x2="1020.6" y2="609.6" stroke-width="2.9"/>
<line x1="989.6" y1="669" x2="1020.6" y2="639" stroke-width="2.9"/>
<line x1="1010.5" y1="677.8" x2="1020.6" y2="669" stroke-width="2.9"/>
<rect x="1019.5" y="482.9" width="43.9" height="35" fill="#000" stroke="none"/>
<rect x="1028" y="490.9" width="30.7" height="19.1" fill="#fff" stroke="none"/>
<line x1="1024.2" y1="487.5" x2="1024.2" y2="514" stroke-width="0.9" stroke="#fff"/>
<path d="M1055.2,487 L1055.2,468 Q1055.2,466.4 1057,466.4 L1095,466.4 Q1097,466.4 1097,468.4 L1097.6,491" stroke-width="4" fill="#fff"/>
<rect x="1063.4" y="487.5" width="36.6" height="28.5" fill="#fff" stroke="none"/>
<circle cx="1076.2" cy="500.4" r="12.6" stroke-width="1" fill="#000"/>
<polygon points="1075,486.6 1078,483.4 1087.5,486.5 1098.8,491.2 1104.5,502 1104.8,516 1099.4,516 1099.4,506.6 1085,506.6 1080,513.2 1075,513.2" fill="#000" stroke-width="0"/>
<line x1="1055" y1="488.5" x2="1094" y2="488.5" stroke-width="3.6"/>
<rect x="1085.6" y="507.2" width="13.6" height="5.5" fill="#fff" stroke="none"/>
<path d="M1068.5,494 A9.6,9.6 0 0 0 1071,508.2" stroke-width="0.9" fill="none" stroke="#fff"/>
<path d="M1081,492 Q1086,490.6 1089.5,492.4" stroke-width="0.9" fill="none" stroke="#fff"/>
<rect x="1063" y="513" width="43" height="5" fill="#000" stroke="none"/>
<rect x="1047.8" y="518.6" width="56.3" height="13.4" stroke-width="4.3" fill="#fff"/>
<path d="M1048.7,533 L1046.1,625 M1103,533 L1105.2,625" stroke-width="4.3" fill="none"/>
<rect x="1046" y="625" width="60" height="33" fill="#fff" stroke="none"/>
<line x1="1043.4" y1="624.8" x2="1108.5" y2="624.8" stroke-width="2.4"/>
<line x1="1043.4" y1="628.8" x2="1108.5" y2="628.8" stroke-width="3"/>
<line x1="1043.4" y1="638.2" x2="1108.5" y2="638.2" stroke-width="3"/>
<line x1="1044.4" y1="642.6" x2="1107.6" y2="642.6" stroke-width="2.3"/>
<line x1="1045.6" y1="623.6" x2="1045.6" y2="639.7" stroke-width="4.6"/>
<line x1="1106.3" y1="623.6" x2="1106.3" y2="639.7" stroke-width="4.6"/>
<line x1="1046.6" y1="639" x2="1046.6" y2="660" stroke-width="4.4"/>
<line x1="1105.3" y1="639" x2="1105.3" y2="660" stroke-width="4.4"/>
<line x1="1044.4" y1="658.6" x2="1107.5" y2="658.6" stroke-width="4.5"/>
<line x1="1106.5" y1="660" x2="1106.5" y2="703" stroke-width="2.2"/>
<line x1="963" y1="688.4" x2="994" y2="688.4" stroke-width="2.2"/>
<polygon points="1020,689.5 991.5,694.4 991.5,682.4 1020,687.3" fill="#000" stroke-width="0"/>
<polygon points="1107.2,687.3 1135.7,682.4 1135.7,694.4 1107.2,689.5" fill="#000" stroke-width="0"/>
<line x1="1133" y1="688.4" x2="1163" y2="688.4" stroke-width="2.2"/>
<text x="1030.81" y="702" font-size="39.8" fill="#000">122</text>
<line x1="760.5" y1="750" x2="760.5" y2="802" stroke-width="2.2"/>
<line x1="907.5" y1="750" x2="907.5" y2="802" stroke-width="2.2"/>
<line x1="704.5" y1="766" x2="734" y2="766" stroke-width="2.2"/>
<polygon points="759.4,767.1 730.9,772 730.9,760 759.4,764.9" fill="#000" stroke-width="0"/>
<polygon points="907.6,764.9 936.1,760 936.1,772 907.6,767.1" fill="#000" stroke-width="0"/>
<line x1="934" y1="766" x2="963.5" y2="766" stroke-width="2.2"/>
<ellipse cx="797.1" cy="766.1" rx="12.7" ry="13.5" stroke-width="2.7" fill="none"/>
<line x1="783.6" y1="780.4" x2="810" y2="750.6" stroke-width="2.3"/>
<text x="817.5" y="780" font-size="39.8" fill="#000">210</text>
<line x1="760.6" y1="800.1" x2="760.6" y2="1104" stroke-width="4.1"/>
<line x1="907.6" y1="800.1" x2="907.6" y2="1139.5" stroke-width="4.5"/>
<line x1="758.6" y1="802.95" x2="905.4" y2="802.95" stroke-width="5.7"/>
<path d="M758.6,1102.4 L768,1102.4" stroke-width="3.8" fill="none"/>
<path d="M766,1102.6 L769,1102.6 A11,11 0 0 1 780,1113.6 L780,1139" stroke-width="5.6" fill="none"/>
<path d="M766,1106 L766,1143.5" stroke-width="2.2" fill="none"/>
<path d="M768.6,1108.4 Q775.6,1112 776,1126 L776,1137" stroke-width="3.2" fill="none"/>
<rect x="765" y="1121" width="11" height="16" fill="#000" stroke="none"/>
<line x1="766" y1="1137.8" x2="909.8" y2="1137.8" stroke-width="3.8"/>
<line x1="766" y1="1144.1" x2="907.8" y2="1144.1" stroke-width="3.4"/>
<line x1="907" y1="1144.4" x2="985.2" y2="1144.4" stroke-width="2.3"/>
<rect x="904.2" y="1139" width="3.6" height="6.8" fill="#000" stroke="none"/>
<line x1="883" y1="1146.6" x2="898" y2="1146.6" stroke-width="1.2" stroke="#888"/>
<path d="M904,1100.3 L907.5,1100.3 Q912.8,1100.8 912.8,1106.2 Q912.8,1111.8 907.5,1112.2 L904,1112.2 Z" stroke-width="0.1" fill="#000"/>
<line x1="907" y1="802.3" x2="985" y2="802.3" stroke-width="2.4"/>
<line x1="970" y1="804" x2="970" y2="950" stroke-width="2.2"/>
<line x1="970" y1="997.5" x2="970" y2="1142" stroke-width="2.2"/>
<polygon points="971.1,802.3 976,830.8 964,830.8 968.9,802.3" fill="#000" stroke-width="0"/>
<polygon points="968.9,1144.4 964,1115.9 976,1115.9 971.1,1144.4" fill="#000" stroke-width="0"/>
<text x="937.09" y="987.5" font-size="39.8" fill="#000">491</text>
<line x1="584" y1="1121.4" x2="646.3" y2="1121.4" stroke-width="2.2"/>
<line x1="584" y1="1136.6" x2="646.3" y2="1136.6" stroke-width="2.2"/>
<rect x="647" y="1119" width="10.2" height="18.6" stroke-width="3" fill="#fff" rx="2"/>
<line x1="647" y1="1126.2" x2="657" y2="1126.2" stroke-width="1.8"/>
<rect x="658.4" y="1122.9" width="39.1" height="11.6" fill="#000" stroke="none"/>
<rect x="670.5" y="1127.6" width="1.2" height="1.8" fill="#fff" stroke="none"/>
<rect x="676" y="1127.6" width="1.2" height="1.8" fill="#fff" stroke="none"/>
<rect x="681" y="1127.6" width="1.2" height="1.8" fill="#fff" stroke="none"/>
<rect x="685.5" y="1127.6" width="1.2" height="1.8" fill="#fff" stroke="none"/>
<line x1="697" y1="1124.9" x2="756" y2="1124.9" stroke-width="3.8"/>
<line x1="697" y1="1132.6" x2="756" y2="1132.6" stroke-width="3.8"/>
<line x1="666.3" y1="1138.8" x2="755.3" y2="1138.8" stroke-width="1.8"/>
<rect x="754.5" y="1120.6" width="11.5" height="15.6" fill="#000" stroke="none" rx="1"/>
<rect x="758" y="1123.4" width="1.6" height="3.6" fill="#fff" stroke="none"/>
<rect x="758" y="1129.6" width="1.6" height="3.8" fill="#fff" stroke="none"/>
<rect x="762" y="1124" width="2" height="9" fill="#fff" stroke="none"/>
<line x1="598.7" y1="1065" x2="598.7" y2="1095" stroke-width="2.2"/>
<polygon points="597.6,1121.4 592.7,1092.9 604.7,1092.9 599.8,1121.4" fill="#000" stroke-width="0"/>
<polygon points="599.8,1136.6 604.7,1165.1 592.7,1165.1 597.6,1136.6" fill="#000" stroke-width="0"/>
<path d="M598.7,1164 L598.7,1207 L500.4,1207" stroke-width="2.2" fill="none"/>
<text x="500.7" y="1202.6" font-size="39.8" fill="#000">G</text>
<text x="536.07" y="1184" font-size="24.9" fill="#000">1</text>
<line x1="552.2" y1="1202.9" x2="560.9" y2="1173.4" stroke-width="2.7"/>
<text x="562.15" y="1202.9" font-size="24.9" fill="#000">2</text>
<line x1="682" y1="1166" x2="682" y2="1197.5" stroke-width="2.2"/>
<polygon points="683.1,1139.4 688,1167.9 676,1167.9 680.9,1139.4" fill="#000" stroke-width="0"/>
<line x1="682" y1="1244" x2="682" y2="1275" stroke-width="2.2"/>
<polygon points="680.9,1302 676,1273.5 688,1273.5 683.1,1302" fill="#000" stroke-width="0"/>
<text x="633.91" y="1234.5" font-size="39.8" fill="#000">1600</text>
<line x1="667" y1="1302" x2="708" y2="1302" stroke-width="2.2"/>
<path d="M766,1141.2 L761,1141.2 A22,22 0 0 0 739.2,1163.2 L739.2,1213.5" stroke-width="8.8" fill="none" stroke-linecap="butt"/>
<path d="M766,1141.2 L761,1141.2 A22,22 0 0 0 739.2,1163.2 L739.2,1213.5" stroke-width="1.3" fill="none" stroke="#fff" stroke-linecap="butt"/>
<path d="M739,1225 L739,1268.5" stroke-width="8.8" fill="none" stroke-linecap="butt"/>
<path d="M739,1225 L739,1268.5" stroke-width="1.3" fill="none" stroke="#fff" stroke-linecap="butt"/>
<path d="M735,1213.5 Q739,1216 743.4,1213.5 M735,1225 Q739,1222.4 743.4,1225" stroke-width="2" fill="none"/>
<rect x="732.8" y="1267.8" width="11.8" height="18.7" fill="#000" stroke="none" rx="1"/>
<polygon points="720,1285 745.6,1285 745.6,1312.6 739.2,1319 720,1319" fill="#000" stroke-width="0"/>
<polygon points="728.9,1290.4 739.2,1290.4 739.2,1311.2 735.8,1314.6 728.9,1314.6" fill="#fff" stroke-width="0"/>
<rect x="723.8" y="1289" width="1.1" height="1" fill="#fff" stroke="none"/>
<rect x="723.8" y="1294.4" width="1.1" height="3.4" fill="#fff" stroke="none"/>
<rect x="723.8" y="1306.2" width="1.1" height="3.4" fill="#fff" stroke="none"/>
<rect x="723.8" y="1314" width="1.1" height="1" fill="#fff" stroke="none"/>
<rect x="706.7" y="1297.8" width="14.3" height="8" fill="#000" stroke="none" rx="3"/>
</svg>
</body></html>
